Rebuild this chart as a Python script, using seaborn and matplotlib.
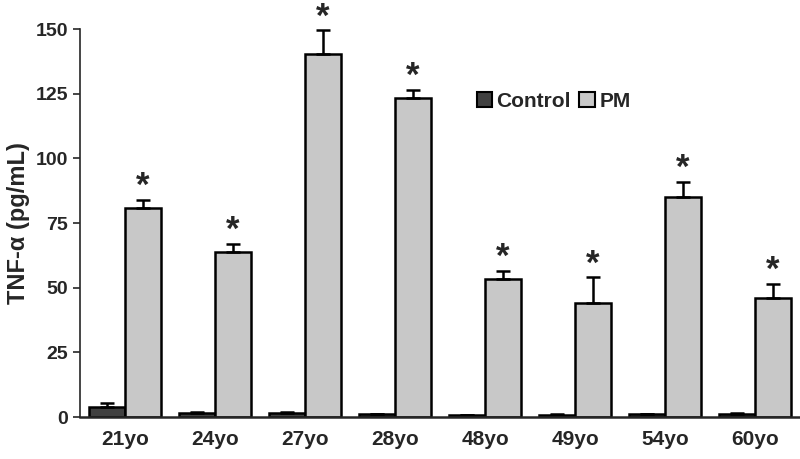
import pandas as pd
import matplotlib.pyplot as plt
import seaborn as sns
import numpy as np
from matplotlib.patches import Patch

# --- datos ---
ages = ['21yo', '24yo', '27yo', '28yo', '48yo', '49yo', '54yo', '60yo']
control_mean = [4.0, 1.5, 1.5, 1.0, 0.7, 0.8, 1.0, 1.2]
control_err = [1.6, 0.3, 0.4, 0.2, 0.2, 0.2, 0.2, 0.3]
pm_mean = [81.0, 64.0, 140.5, 123.5, 53.5, 44.0, 85.0, 46.0]
pm_err = [3.0, 3.0, 9.0, 3.0, 3.0, 10.0, 6.0, 5.5]
groups = ['Control', 'PM']
colors = ['#404040', '#c8c8c8']

df = pd.DataFrame({
    'age': ages * 2,
    'group': ['Control'] * len(ages) + ['PM'] * len(ages),
    'value': control_mean + pm_mean,
})

sns.set_style('white')
plt.rcParams['font.family'] = ['Liberation Sans', 'DejaVu Sans']
plt.rcParams['font.weight'] = 'bold'

fig = plt.figure(figsize=(8, 4.59), dpi=100)
ax = fig.add_axes([0.1, 0.0915, 0.9, 0.845])

sns.barplot(data=df, x='age', y='value', hue='group', hue_order=groups,
            palette=colors, order=ages, width=0.8, edgecolor='black',
            linewidth=1.8, ax=ax, legend=False)

# barras de error (solo hacia arriba) y asteriscos
x = np.arange(len(ages))
w = 0.2
ax.errorbar(x - w, control_mean, yerr=[np.zeros(len(ages)), control_err],
            fmt='none', ecolor='black', elinewidth=1.8, capsize=5, capthick=1.8, zorder=1)
ax.errorbar(x + w, pm_mean, yerr=[np.zeros(len(ages)), pm_err],
            fmt='none', ecolor='black', elinewidth=1.8, capsize=5, capthick=1.8, zorder=1)
for xi, m, e in zip(x, pm_mean, pm_err):
    ax.text(xi + w, m + e + 1.5, '*', ha='center', va='baseline', fontsize=25,
            fontweight='bold', clip_on=False)

ax.set_xlim(-0.5, 7.5)
ax.set_ylim(0, 150)
ax.set_yticks([0, 25, 50, 75, 100, 125, 150])
ax.set_xlabel('')
ax.set_ylabel('TNF-α (pg/mL)', fontsize=17, fontweight='bold', labelpad=4)
ax.tick_params(axis='y', length=5, width=1.2, direction='out', left=True, labelsize=14)
ax.tick_params(axis='x', length=0, labelsize=15, pad=9)
for lbl in ax.get_xticklabels() + ax.get_yticklabels():
    lbl.set_fontweight('bold')

sns.despine(ax=ax, top=True, right=True)
ax.spines['left'].set_linewidth(1.2)
ax.spines['bottom'].set_linewidth(1.8)

handles = [Patch(facecolor=c, edgecolor='black', linewidth=1.5) for c in colors]
ax.legend(handles, groups, loc='center left', bbox_to_anchor=(0.525, 0.814), ncol=2,
          frameon=False, handlelength=0.75, handleheight=0.75,
          handletextpad=0.2, columnspacing=0.4, prop={'weight': 'bold', 'size': 15})

plt.savefig('out.png', dpi=100)
